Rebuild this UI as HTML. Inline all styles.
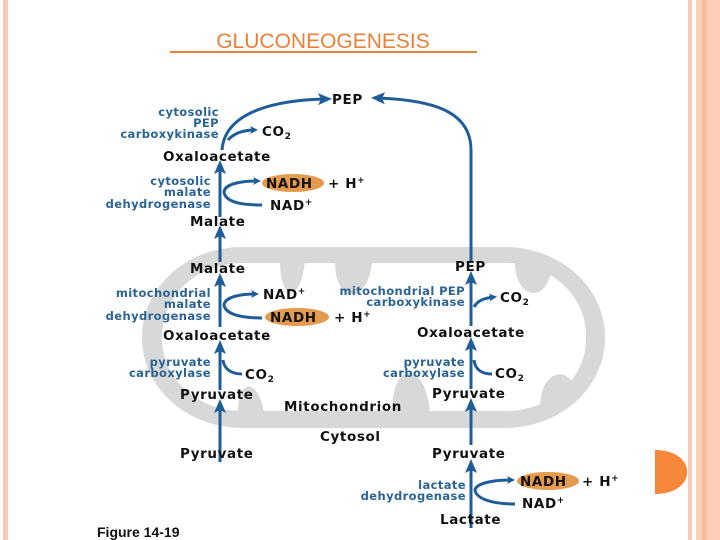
<!DOCTYPE html>
<html><head><style>
html,body{margin:0;padding:0;background:#fff;}
svg{display:block;}
text{font-family:"DejaVu Sans","Liberation Sans",sans-serif;}
.b{font-weight:bold;font-size:13.5px;fill:#111;letter-spacing:0.6px;}
.e{font-weight:bold;font-size:11.5px;fill:#2a6496;letter-spacing:0.4px;}
</style></head><body>
<svg width="720" height="540" viewBox="0 0 720 540" xmlns="http://www.w3.org/2000/svg">
<defs>
<marker id="a" markerWidth="8" markerHeight="8" refX="5" refY="4" orient="auto" markerUnits="userSpaceOnUse">
<path d="M0,0 L8,4 L0,8 L2,4 z" fill="#1f5d99"/></marker>
<marker id="u" markerWidth="14" markerHeight="12" refX="7" refY="6" orient="auto" markerUnits="userSpaceOnUse">
<path d="M0,0 L14,6 L0,12 L3,6 z" fill="#1f5d99"/></marker>
</defs>
<rect x="3" y="0" width="5" height="540" fill="#f9c9b6"/>
<rect x="688" y="0" width="4" height="540" fill="#f9c9b6"/>
<rect x="696" y="0" width="6" height="540" fill="#fdd0b8"/>
<rect x="702" y="0" width="5" height="540" fill="#f8bca0"/>
<rect x="707" y="0" width="13" height="540" fill="#fdcdb8"/>
<path d="M655,450 C698,450 698,494 655,494 Z" fill="#f5883a"/>
<text x="323" y="48" text-anchor="middle" font-size="21" fill="#e8803a" style="font-family:'Liberation Sans',sans-serif">GLUCONEOGENESIS</text>
<rect x="170" y="51" width="307" height="2" fill="#e8803a"/>
<rect x="142" y="247" width="463" height="181" rx="100" ry="90" fill="#d8d8d8"/>
<rect x="162" y="263" width="424" height="148" rx="80" ry="72" fill="#fff"/>
<path d="M280,262 C280,300 300,305 305,262 Z" fill="#d8d8d8"/>
<path d="M335,262 C335,305 368,305 372,262 Z" fill="#d8d8d8"/>
<path d="M515,262 C515,300 548,305 552,266 Z" fill="#d8d8d8"/>
<path d="M392,412 C392,360 425,360 430,412 Z" fill="#d8d8d8"/>
<path d="M238,412 C238,378 258,378 264,412 Z" fill="#d8d8d8"/>
<path d="M540,408 C540,370 568,365 575,388 Z" fill="#d8d8d8"/>
<g stroke="#1f5d99" stroke-width="3" fill="none">
<line x1="220" y1="462" x2="220" y2="406" marker-end="url(#u)"/>
<line x1="220" y1="390" x2="220" y2="347" marker-end="url(#u)"/>
<line x1="220" y1="327" x2="220" y2="280" marker-end="url(#u)"/>
<line x1="220" y1="262" x2="220" y2="232" marker-end="url(#u)"/>
<line x1="220" y1="217" x2="220" y2="167" marker-end="url(#u)"/>
<path d="M222,150 C225,110 280,100 325,99" marker-end="url(#u)"/>
<path d="M228,140 C235,132 245,130 255,130" marker-end="url(#a)"/>
<path d="M262,205 C235,205 225,200 224,192 C225,184 240,181 258,181" marker-end="url(#a)"/>
<path d="M262,318 C235,318 225,312 224,305 C225,297 240,294 256,294" marker-end="url(#a)"/>
<path d="M242,374 C230,374 224,368 223,360"/>
<line x1="471" y1="528" x2="471" y2="466" marker-end="url(#u)"/>
<line x1="471" y1="445" x2="471" y2="405" marker-end="url(#u)"/>
<line x1="471" y1="389" x2="471" y2="344" marker-end="url(#u)"/>
<line x1="471" y1="326" x2="471" y2="278" marker-end="url(#u)"/>
<path d="M471,262 L471,150 C471,110 430,100 378,98" marker-end="url(#u)"/>
<path d="M474,307 C478,300 485,298 494,297" marker-end="url(#a)"/>
<path d="M492,374 C481,374 475,369 474,360"/>
<path d="M515,504 C490,504 476,498 475,490 C476,484 490,480 512,480" marker-end="url(#a)"/>
</g>
<ellipse cx="293" cy="183" rx="31" ry="9" fill="#e59b4e"/>
<ellipse cx="297" cy="317" rx="32" ry="9" fill="#e59b4e"/>
<ellipse cx="548" cy="481" rx="31" ry="9" fill="#e59b4e"/>
<text class="b" x="332" y="104">PEP</text>
<text class="e" text-anchor="end" x="219" y="116">cytosolic</text>
<text class="e" text-anchor="end" x="219" y="127">PEP</text>
<text class="e" text-anchor="end" x="219" y="138">carboxykinase</text>
<text class="b" x="262" y="136">CO<tspan font-size="9" dy="3">2</tspan></text>
<text class="b" x="163" y="161">Oxaloacetate</text>
<text class="e" text-anchor="end" x="211" y="185">cytosolic</text>
<text class="e" text-anchor="end" x="211" y="196">malate</text>
<text class="e" text-anchor="end" x="211" y="208">dehydrogenase</text>
<text class="b" x="266" y="188">NADH</text>
<text class="b" x="328" y="188">+ H<tspan font-size="9" dy="-5">+</tspan></text>
<text class="b" x="270" y="210">NAD<tspan font-size="9" dy="-5">+</tspan></text>
<text class="b" x="190" y="226">Malate</text>
<text class="b" x="190" y="273">Malate</text>
<text class="e" text-anchor="end" x="211" y="297">mitochondrial</text>
<text class="e" text-anchor="end" x="211" y="308">malate</text>
<text class="e" text-anchor="end" x="211" y="320">dehydrogenase</text>
<text class="b" x="263" y="299">NAD<tspan font-size="9" dy="-5">+</tspan></text>
<text class="b" x="270" y="322">NADH</text>
<text class="b" x="334" y="322">+ H<tspan font-size="9" dy="-5">+</tspan></text>
<text class="b" x="163" y="340">Oxaloacetate</text>
<text class="e" text-anchor="end" x="211" y="366">pyruvate</text>
<text class="e" text-anchor="end" x="211" y="377">carboxylase</text>
<text class="b" x="245" y="379">CO<tspan font-size="9" dy="3">2</tspan></text>
<text class="b" x="180" y="399">Pyruvate</text>
<text class="b" x="284" y="411">Mitochondrion</text>
<text class="b" x="320" y="441">Cytosol</text>
<text class="b" x="180" y="458">Pyruvate</text>
<text class="b" x="455" y="271">PEP</text>
<text class="e" text-anchor="end" x="465" y="295">mitochondrial PEP</text>
<text class="e" text-anchor="end" x="465" y="306">carboxykinase</text>
<text class="b" x="500" y="302">CO<tspan font-size="9" dy="3">2</tspan></text>
<text class="b" x="417" y="337">Oxaloacetate</text>
<text class="e" text-anchor="end" x="465" y="366">pyruvate</text>
<text class="e" text-anchor="end" x="465" y="377">carboxylase</text>
<text class="b" x="495" y="378">CO<tspan font-size="9" dy="3">2</tspan></text>
<text class="b" x="432" y="398">Pyruvate</text>
<text class="b" x="432" y="458">Pyruvate</text>
<text class="e" text-anchor="end" x="466" y="489">lactate</text>
<text class="e" text-anchor="end" x="466" y="500">dehydrogenase</text>
<text class="b" x="520" y="486">NADH</text>
<text class="b" x="582" y="486">+ H<tspan font-size="9" dy="-5">+</tspan></text>
<text class="b" x="522" y="508">NAD<tspan font-size="9" dy="-5">+</tspan></text>
<text class="b" x="440" y="524">Lactate</text>
<text x="97" y="537" font-size="14" font-weight="bold" fill="#111" style="font-family:'Liberation Sans',sans-serif">Figure 14-19</text>
</svg>
</body></html>
